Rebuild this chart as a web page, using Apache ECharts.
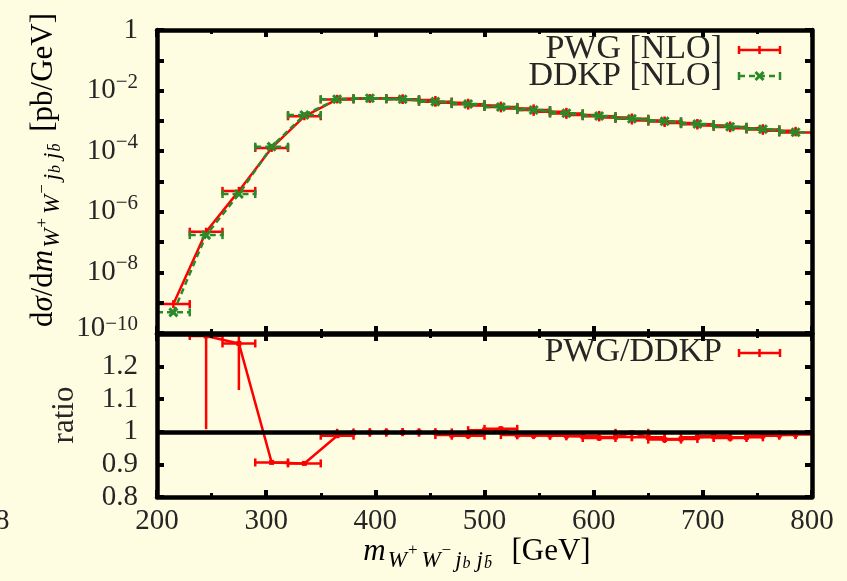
<!DOCTYPE html>
<html><head><meta charset="utf-8">
<script src="https://cdn.jsdelivr.net/npm/echarts@6/dist/echarts.min.js"></script>
<style>html,body{margin:0;padding:0;background:#fffde1;}#c{width:847px;height:581px;}</style>
</head><body><div id="c"></div><script>
// ---- data ----
const pwgMass = [215,245,275,305,335,365,380,395,410,425,440,455,470,485,500,515,530,545,560,575,590,605,620,635,650,665,680,695,710,725,740,755,770,785];
const pwgXsec = [9.0e-10,2.2e-7,4.9e-6,1.28e-4,1.42e-3,5.10e-3,5.36e-3,5.57e-3,5.57e-3,5.16e-3,4.90e-3,4.31e-3,3.97e-3,3.57e-3,3.20e-3,2.90e-3,2.59e-3,2.27e-3,1.99e-3,1.76e-3,1.58e-3,1.42e-3,1.30e-3,1.17e-3,1.03e-3,9.47e-4,8.54e-4,7.78e-4,7.06e-4,6.32e-4,5.73e-4,5.22e-4,4.70e-4,4.18e-4];
const ddkpMass = [215,245,275,305,335,365,395,425,455,485,515,545,575,605,635,665,695,725,755,785];
const ddkpXsec = [4.8e-10,1.7e-7,3.85e-6,1.41e-4,1.57e-3,5.16e-3,5.58e-3,5.17e-3,4.32e-3,3.61e-3,2.87e-3,2.29e-3,1.78e-3,1.45e-3,1.18e-3,9.70e-4,7.91e-4,6.44e-4,5.28e-4,4.21e-4];
const ratioMass = [245,275,305,335,365,380,395,410,425,440,455,470,485,500,515,530,545,560,575,590,605,620,635,650,665,680,695,710,725,740,755,770,785];
const ratioValue = [1.294,1.271,0.906,0.903,0.988,0.997,0.998,0.999,0.998,0.999,0.998,0.990,0.988,1.005,1.009,0.990,0.989,0.990,0.988,0.986,0.981,0.984,0.997,0.983,0.976,0.978,0.983,0.986,0.981,0.983,0.988,0.990,0.992];
const ratioErrDown = [0.286,0.143,0.004,0.004,0.004,0.003,0.003,0.003,0.003,0.003,0.003,0.004,0.004,0.005,0.005,0.005,0.005,0.006,0.006,0.006,0.007,0.007,0.007,0.008,0.008,0.008,0.009,0.009,0.010,0.010,0.011,0.011,0.012];
const ratioErrUp = [0.250,0.200,0.004,0.004,0.004,0.003,0.003,0.003,0.003,0.003,0.003,0.004,0.004,0.005,0.005,0.005,0.005,0.006,0.006,0.006,0.007,0.007,0.007,0.008,0.008,0.008,0.009,0.009,0.010,0.010,0.011,0.011,0.012];
const binHalfWidth = 15;
const ratioReference = 1;
const xTickLabels = [200,300,400,500,600,700,800];
const yTickExponents = [0,-2,-4,-6,-8,-10];
const ratioTickLabels = [0.8,0.9,1,1.1,1.2];

// ---- style ----
const FONT = '"Liberation Serif","DejaVu Serif",serif';
const TXT = '#262626';
const RED = '#ff0000', GREEN = '#2a8a2a';
const FRAME = 4.5;

function xAx(grid, pos, labels) {
  return {type:'value', gridIndex:grid, position:pos, min:200, max:800, interval:100, z:10,
    axisLine:{show:true, onZero:false, lineStyle:{color:'#000', width:FRAME}},
    axisTick:{show:true, inside:true, length:7, lineStyle:{color:'#000', width:4}},
    minorTick:{show:true, splitNumber:2, length:4, lineStyle:{color:'#000', width:3}},
    splitLine:{show:false}, minorSplitLine:{show:false},
    axisLabel:{show:labels, margin:10, color:TXT, fontFamily:FONT, fontSize:29,
      formatter: v => xTickLabels.includes(v) ? String(v) : ''}};
}
function yLog(pos, labels) {
  return {type:'log', gridIndex:0, position:pos, logBase:10, min:1e-10, max:0.99999, splitNumber:10, z:10,
    axisLine:{show:true, onZero:false, lineStyle:{color:'#000', width:FRAME}},
    axisTick:{show:true, inside:true, length:7, lineStyle:{color:'#000', width:4}},
    splitLine:{show:false},
    axisLabel:{show:labels, margin:19, color:TXT,
      formatter: v => {
        const e = Math.round(Math.log10(v));
        if (!yTickExponents.includes(e)) return '';
        if (e === 0) return '{b|1}';
        if (e === -10) return '{bl|10}{sl|\u2212' + (-e) + '}';
        return '{b|10}{s|\u2212' + (-e) + '}';
      },
      rich:{b:{fontFamily:FONT, fontSize:29, color:TXT, lineHeight:38},
            s:{fontFamily:FONT, fontSize:21, color:TXT, lineHeight:20, verticalAlign:'top'},
            bl:{fontFamily:FONT, fontSize:29, color:TXT, lineHeight:38, padding:[0,0,10,0]},
            sl:{fontFamily:FONT, fontSize:21, color:TXT, lineHeight:20, verticalAlign:'top'}}}};
}
function yRatio(pos, labels) {
  return {type:'value', gridIndex:1, position:pos, min:0.8, max:1.3, interval:0.1, z:10,
    axisLine:{show:true, onZero:false, lineStyle:{color:'#000', width:FRAME}},
    axisTick:{show:true, inside:true, length:7, lineStyle:{color:'#000', width:4}},
    splitLine:{show:false},
    axisLabel:{show:labels, margin:19, color:TXT, fontFamily:FONT, fontSize:29,
      formatter: v => ratioTickLabels.some(t => Math.abs(t - v) < 1e-6) ? String(+v.toFixed(1)) : ''}};
}

function barItem(color, dash, marker) {
  return function(params, api) {
    const y = api.value(1);
    const c = api.coord([api.value(0), y]);
    const l = api.coord([api.value(2), y]);
    const r = api.coord([api.value(3), y]);
    const st = {stroke:color, lineWidth:2.5, lineDash:dash, fill:null};
    const cap = {stroke:color, lineWidth:2.5, fill:null};
    const ch = [
      {type:'line', shape:{x1:l[0], y1:c[1], x2:r[0], y2:c[1]}, style:st},
      {type:'line', shape:{x1:l[0], y1:c[1]-4, x2:l[0], y2:c[1]+4}, style:cap},
      {type:'line', shape:{x1:r[0], y1:c[1]-4, x2:r[0], y2:c[1]+4}, style:cap}
    ];
    if (marker === 'plus') ch.push({type:'line', shape:{x1:c[0], y1:c[1]-4, x2:c[0], y2:c[1]+4}, style:cap});
    if (marker === 'cross') {
      ch.push({type:'line', shape:{x1:c[0]-4, y1:c[1]-4, x2:c[0]+4, y2:c[1]+4}, style:{stroke:color, lineWidth:3}});
      ch.push({type:'line', shape:{x1:c[0]-4, y1:c[1]+4, x2:c[0]+4, y2:c[1]-4}, style:{stroke:color, lineWidth:3}});
    }
    return {type:'group', children:ch};
  };
}
function ratioItem(params, api) {
  const m = api.value(0), v = api.value(1);
  const c = api.coord([m, v]);
  const lo = api.coord([m, api.value(2)]);
  const hi = api.coord([m, api.value(3)]);
  const l = api.coord([api.value(4), v]);
  const r = api.coord([api.value(5), v]);
  const st = {stroke:RED, lineWidth:2.5, fill:null};
  return {type:'group', children:[
    {type:'line', shape:{x1:l[0], y1:c[1], x2:r[0], y2:c[1]}, style:st},
    {type:'line', shape:{x1:l[0], y1:c[1]-4, x2:l[0], y2:c[1]+4}, style:st},
    {type:'line', shape:{x1:r[0], y1:c[1]-4, x2:r[0], y2:c[1]+4}, style:st},
    {type:'line', shape:{x1:c[0], y1:lo[1], x2:c[0], y2:hi[1]}, style:st},
    {type:'rect', shape:{x:c[0]-2.5, y:c[1]-2.5, width:5, height:5}, style:{fill:RED}}
  ]};
}

function legendSample(x1, x2, y, color, dash, marker) {
  const st = {stroke:color, lineWidth:2.5, lineDash:dash};
  const mid = (x1 + x2) / 2;
  const ch = [
    {type:'line', shape:{x1:x1, y1:y, x2:x2, y2:y}, style:st},
    {type:'line', shape:{x1:x1, y1:y-4, x2:x1, y2:y+4}, style:{stroke:color, lineWidth:2.5}},
    {type:'line', shape:{x1:x2, y1:y-4, x2:x2, y2:y+4}, style:{stroke:color, lineWidth:2.5}}
  ];
  if (marker === 'plus') ch.push({type:'line', shape:{x1:mid, y1:y-4, x2:mid, y2:y+4}, style:{stroke:color, lineWidth:2.5}});
  if (marker === 'cross') {
    ch.push({type:'line', shape:{x1:mid-4, y1:y-4, x2:mid+4, y2:y+4}, style:{stroke:color, lineWidth:3}});
    ch.push({type:'line', shape:{x1:mid-4, y1:y+4, x2:mid+4, y2:y-4}, style:{stroke:color, lineWidth:3}});
  }
  return {type:'group', z:20, children:ch};
}

const titleRich = {
  n:{fontFamily:FONT, fontSize:31, color:TXT, lineHeight:40},
  i:{fontFamily:FONT, fontSize:31, fontStyle:'italic', color:TXT, lineHeight:40},
  s:{fontFamily:FONT, fontSize:23, fontStyle:'italic', color:TXT, verticalAlign:'bottom', lineHeight:30, padding:[0,1,0,2]},
  p:{fontFamily:FONT, fontSize:17, color:TXT, verticalAlign:'bottom', lineHeight:16, padding:[0,2,13,0]},
  q:{fontFamily:FONT, fontSize:16, fontStyle:'italic', color:TXT, verticalAlign:'bottom', lineHeight:16, padding:[0,4,0,0]}
};
const subText = '{s|W}{p|+}{s|W}{p|\u2212}{s|j}{q|b}{s|j}{q|b\u0304}';

const chart = echarts.init(document.getElementById('c'), null, {renderer:'canvas'});
chart.setOption({
  backgroundColor:'#fffde1',
  animation:false,
  grid:[{left:157, top:30, width:655, height:303}, {left:157, top:334, width:655, height:163}],
  xAxis:[xAx(0,'bottom',false), xAx(0,'top',false), xAx(1,'bottom',true), xAx(1,'top',false)],
  yAxis:[yLog('left',true), yLog('right',false), yRatio('left',true), yRatio('right',false)],
  series:[
    {type:'line', name:'PWG [NLO]', xAxisIndex:0, yAxisIndex:0, z:2, symbol:'none',
     lineStyle:{color:RED, width:2.5}, data:pwgMass.map((m,i)=>[m, pwgXsec[i]])},
    {type:'custom', xAxisIndex:0, yAxisIndex:0, z:3, clip:true, renderItem:barItem(RED, null, 'plus'),
     data:pwgMass.map((m,i)=>[m, pwgXsec[i], m-binHalfWidth, m+binHalfWidth])},
    {type:'line', name:'DDKP [NLO]', xAxisIndex:0, yAxisIndex:0, z:4, symbol:'none',
     lineStyle:{color:GREEN, width:2.5, type:[6,4]}, data:ddkpMass.map((m,i)=>[m, ddkpXsec[i]])},
    {type:'custom', xAxisIndex:0, yAxisIndex:0, z:5, clip:true, renderItem:barItem(GREEN, [6,4], 'cross'),
     data:ddkpMass.map((m,i)=>[m, ddkpXsec[i], m-binHalfWidth, m+binHalfWidth])},
    {type:'line', name:'PWG/DDKP', xAxisIndex:2, yAxisIndex:2, z:2, symbol:'none',
     lineStyle:{color:RED, width:2.5}, data:ratioMass.map((m,i)=>[m, ratioValue[i]]),
     markLine:{silent:true, symbol:'none', z:8, label:{show:false},
       lineStyle:{color:'#000', width:FRAME, type:'solid'}, data:[{yAxis:ratioReference}]}},
    {type:'custom', xAxisIndex:2, yAxisIndex:2, z:3, clip:true, renderItem:ratioItem,
     data:ratioMass.map((m,i)=>[m, ratioValue[i], ratioValue[i]-ratioErrDown[i], ratioValue[i]+ratioErrUp[i], m-binHalfWidth, m+binHalfWidth])}
  ],
  graphic:[
    {type:'text', x:722, y:49, z:20, style:{text:'PWG [NLO]', fontFamily:FONT, fontSize:34, fill:TXT, align:'right', verticalAlign:'middle'}},
    {type:'text', x:722, y:76, z:20, style:{text:'DDKP [NLO]', fontFamily:FONT, fontSize:34, fill:TXT, align:'right', verticalAlign:'middle'}},
    legendSample(739, 780, 50, RED, null, 'plus'),
    legendSample(739, 780, 76, GREEN, [6,4], 'cross'),
    {type:'text', x:722, y:352, z:20, style:{text:'PWG/DDKP', fontFamily:FONT, fontSize:34, fill:TXT, align:'right', verticalAlign:'middle'}},
    legendSample(739, 780, 353, RED, null, 'plus'),
    {type:'text', x:44, y:170, rotation:Math.PI/2, z:20, style:{
      text:'{n|d}{i|\u03c3}{n|/d}{i|m}' + subText + '{n| [pb/GeV]}', rich:titleRich, align:'center', verticalAlign:'middle'}},
    {type:'text', x:65, y:415, rotation:Math.PI/2, z:20, style:{text:'ratio', fontFamily:FONT, fontSize:31, fill:TXT, align:'center', verticalAlign:'middle'}},
    {type:'text', x:477, y:552, z:20, style:{
      text:'{i|m}' + subText + '{n|  [GeV]}', rich:titleRich, align:'center', verticalAlign:'middle'}},
    {type:'text', x:9.5, y:521, z:20, style:{text:'8', fontFamily:FONT, fontSize:29, fill:TXT, align:'right', verticalAlign:'middle'}}
  ]
});
</script></body></html>
